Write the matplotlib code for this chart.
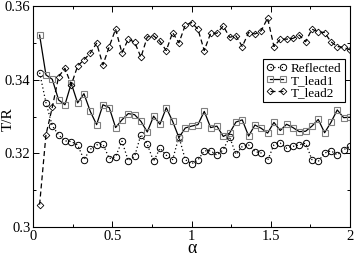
import numpy as np
import matplotlib
matplotlib.use("Agg")
import matplotlib.pyplot as plt
from matplotlib.ticker import MultipleLocator, FuncFormatter

alpha = [round(0.04 * k, 2) for k in range(1, 51)]

reflected = [0.3419, 0.3338, 0.3275, 0.3250, 0.3234, 0.3232, 0.3223, 0.3183, 0.3211, 0.3223,
             0.3225, 0.3186, 0.3191, 0.3233, 0.3180, 0.3192, 0.3251, 0.3225, 0.3178, 0.3214,
             0.3195, 0.3183, 0.3245, 0.3183, 0.3172, 0.3182, 0.3207, 0.3207, 0.3195, 0.3210,
             0.3245, 0.3197, 0.3219, 0.3223, 0.3205, 0.3201, 0.3181, 0.3223, 0.3228, 0.3214,
             0.3219, 0.3223, 0.3228, 0.3183, 0.3178, 0.3201, 0.3207, 0.3196, 0.3210, 0.3219]

t_lead1 = [0.3521, 0.3413, 0.3401, 0.3345, 0.3332, 0.3390, 0.3337, 0.3362, 0.3314, 0.3278,
           0.3332, 0.3324, 0.3270, 0.3291, 0.3308, 0.3305, 0.3287, 0.3258, 0.3301, 0.3279,
           0.3324, 0.3287, 0.3243, 0.3269, 0.3274, 0.3278, 0.3314, 0.3270, 0.3274, 0.3246,
           0.3255, 0.3285, 0.3291, 0.3247, 0.3277, 0.3268, 0.3255, 0.3284, 0.3262, 0.3279,
           0.3270, 0.3259, 0.3260, 0.3274, 0.3292, 0.3256, 0.3284, 0.3318, 0.3297, 0.3298]

t_lead2 = [0.3061, 0.3250, 0.3325, 0.3408, 0.3431, 0.3386, 0.3437, 0.3454, 0.3472, 0.3499,
           0.3440, 0.3490, 0.3537, 0.3473, 0.3510, 0.3502, 0.3461, 0.3516, 0.3519, 0.3504,
           0.3479, 0.3528, 0.3500, 0.3548, 0.3555, 0.3537, 0.3479, 0.3526, 0.3526, 0.3546,
           0.3515, 0.3519, 0.3490, 0.3528, 0.3524, 0.3533, 0.3567, 0.3490, 0.3510, 0.3510,
           0.3512, 0.3521, 0.3503, 0.3537, 0.3530, 0.3528, 0.3503, 0.3490, 0.3488, 0.3481]

plt.rcParams['font.family'] = ['Liberation Serif', 'DejaVu Serif']

fig = plt.figure(figsize=(3.54, 2.56), dpi=100)
ax = fig.add_axes([0.094, 0.113, 0.8945, 0.8636])

ax.plot(alpha, reflected, linestyle=(0, (1, 2)), color='black', linewidth=0.9,
        marker='o', markersize=4.6, markerfacecolor='none', markeredgecolor='black',
        markeredgewidth=0.7, label='Reflected')
ax.plot(alpha, t_lead1, linestyle='-', color='black', linewidth=0.9,
        marker='s', markersize=4.4, markerfacecolor='none', markeredgecolor='#808080',
        markeredgewidth=0.8, label='T_lead1')
ax.plot(alpha, t_lead2, linestyle=(0, (4, 2.5)), color='black', linewidth=0.9,
        marker='D', markersize=3.4, markerfacecolor='none', markeredgecolor='black',
        markeredgewidth=0.6, label='T_lead2')

ax.set_xlim(0, 2)
ax.set_ylim(0.3, 0.36)
ax.xaxis.set_major_locator(MultipleLocator(0.5))
ax.xaxis.set_minor_locator(MultipleLocator(0.25))
ax.yaxis.set_major_locator(MultipleLocator(0.02))
ax.yaxis.set_minor_locator(MultipleLocator(0.01))
ax.xaxis.set_major_formatter(FuncFormatter(lambda v, p: '%g' % round(v, 3)))
ax.yaxis.set_major_formatter(FuncFormatter(lambda v, p: '%g' % round(v, 3)))
ax.tick_params(which='both', direction='in', top=True, right=True, width=0.7,
               labelsize=10.5, pad=2)
ax.tick_params(which='major', length=4)
ax.tick_params(which='minor', length=2)
for s in ax.spines.values():
    s.set_linewidth(0.8)

ax.set_xlabel('α', fontsize=13)
ax.xaxis.set_label_coords(0.5, -0.058)
ax.set_ylabel('T/R', fontsize=11)
ax.yaxis.set_label_coords(-0.06, 0.49)

leg = ax.legend(loc='upper right', bbox_to_anchor=(0.984, 0.760), borderaxespad=0,
                fontsize=9.5, numpoints=2, handlelength=1.6, handletextpad=0.3,
                labelspacing=0.0, borderpad=0.25, fancybox=False, framealpha=1,
                edgecolor='black')
leg.get_frame().set_linewidth(0.8)

fig.savefig('out.png', dpi=100)
